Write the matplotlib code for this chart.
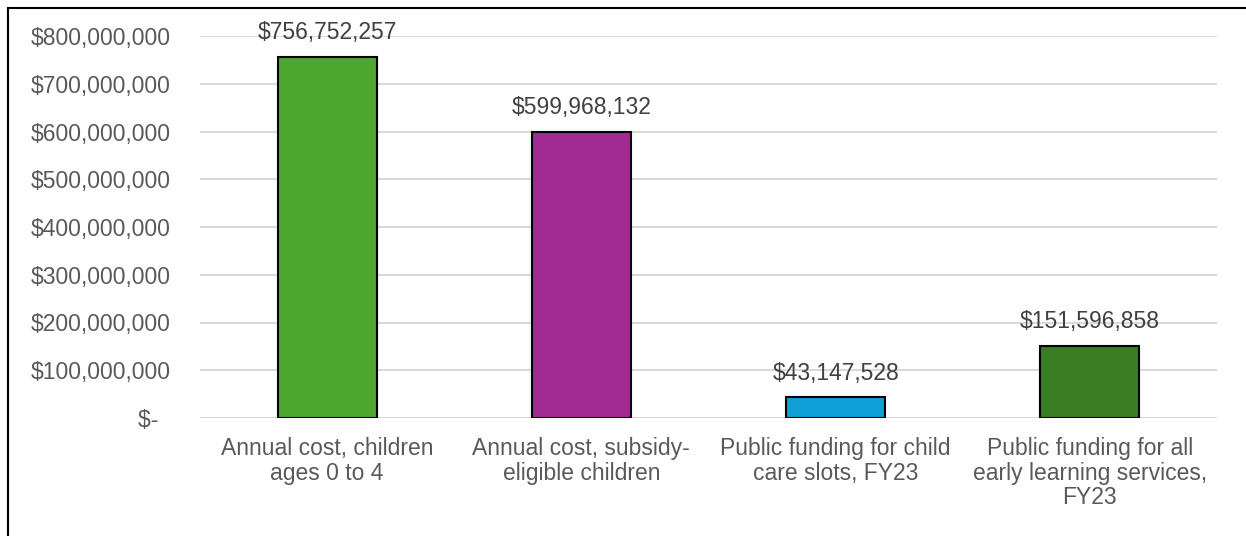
import matplotlib.pyplot as plt
from matplotlib.patches import Rectangle
from matplotlib.ticker import FuncFormatter

# data
categories = ["Annual cost, children\nages 0 to 4",
              "Annual cost, subsidy-\neligible children",
              "Public funding for child\ncare slots, FY23",
              "Public funding for all\nearly learning services,\nFY23"]
values = [756752257, 599968132, 43147528, 151596858]
colors = ["#4EA72E", "#A02B93", "#0F9ED5", "#3B7D23"]
yticks = [0, 100e6, 200e6, 300e6, 400e6, 500e6, 600e6, 700e6, 800e6]

plt.rcParams['font.family'] = ['Liberation Sans', 'DejaVu Sans']

W, H = 1246, 536
fig = plt.figure(figsize=(W / 100, H / 100), dpi=100)
ax = fig.add_axes([200 / W, 1 - 418 / H, 1017 / W, 382 / H])

x = range(len(values))
bars = ax.bar(x, values, width=0.39, color=colors, edgecolor='black', linewidth=1.5, zorder=3)

for b, v in zip(bars, values):
    ax.annotate(f"${v:,.0f}", (b.get_x() + b.get_width() / 2, v),
                xytext=(0, 9), textcoords='offset points',
                ha='center', va='bottom', fontsize=16.5, color='#404040')

def money(v, pos):
    if v == 0:
        return "$-  "
    return f"${v:,.0f}"

ax.set_ylim(0, 800e6)
ax.set_xlim(-0.5, 3.5)
ax.set_yticks(yticks)
ax.yaxis.set_major_formatter(FuncFormatter(money))
ax.set_xticks(list(x))
ax.set_xticklabels(categories, fontsize=16.5, color='#595959', linespacing=1.06)
ax.tick_params(axis='y', length=0, pad=21, labelsize=16.5, labelcolor='#595959')
ax.tick_params(axis='x', length=0, pad=14)
ax.grid(axis='y', color='#d9d9d9', linewidth=1.5, zorder=0)
for s in ax.spines.values():
    s.set_visible(False)

# chart border
fig.patches.append(Rectangle((7.5 / W, -0.1), 1.2, 1 - 7.5 / H + 0.1,
                             transform=fig.transFigure, fill=False,
                             edgecolor='black', linewidth=1.5))

fig.savefig("out.png", dpi=100)
